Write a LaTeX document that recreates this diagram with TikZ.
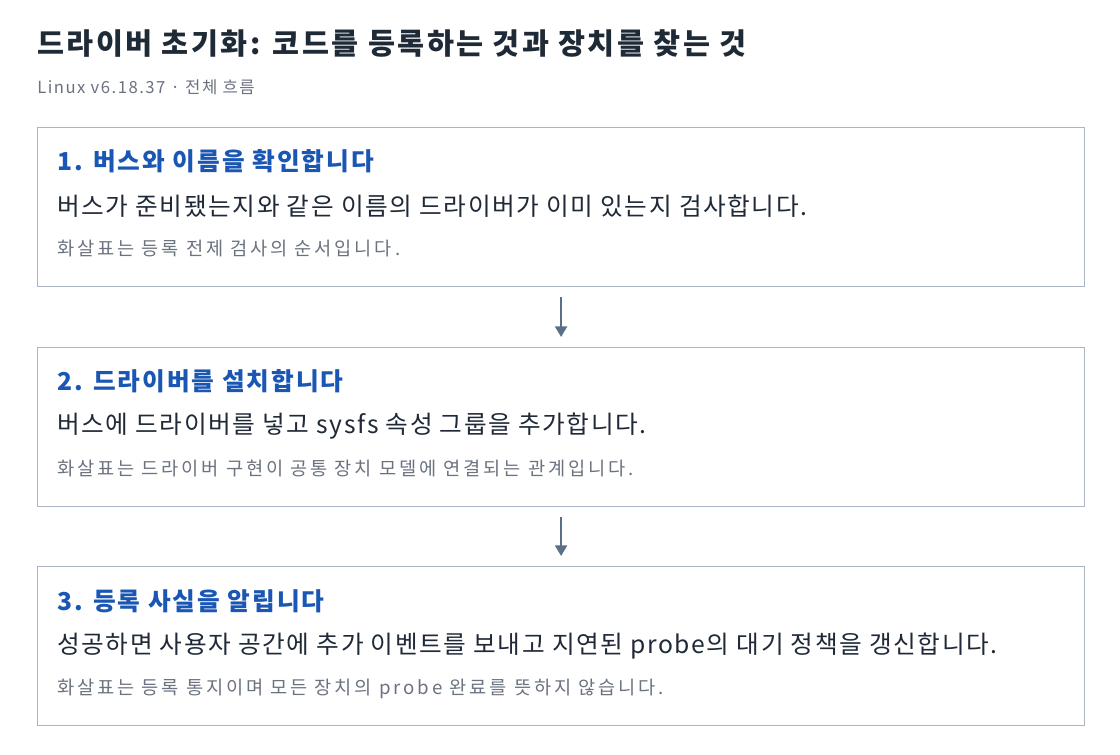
\documentclass[tikz,border=0pt]{standalone}
\usepackage{fontspec}
\setmainfont{Noto Sans CJK KR}
\usetikzlibrary{arrows.meta}
\definecolor{titlecol}{HTML}{1F2A37}
\definecolor{headcol}{HTML}{1A56B4}
\definecolor{bodycol}{HTML}{1F2937}
\definecolor{notecol}{HTML}{6B7280}
\definecolor{framecol}{HTML}{AAB4C3}
\definecolor{arrowcol}{HTML}{5B7088}
\tikzset{
  stepbox/.style={draw=framecol, line width=0.9pt, anchor=north west,
    minimum width=785.25pt, minimum height=119.25pt, inner sep=0pt},
  stephead/.style={anchor=west, inner sep=0pt, text=headcol,
    font=\bfseries\fontsize{18.5}{22}\selectfont\addfontfeature{LetterSpace=8}},
  stepbody/.style={anchor=west, inner sep=0pt, text=bodycol,
    font=\fontsize{18.5}{22}\selectfont\addfontfeature{LetterSpace=6.5}},
  stepnote/.style={anchor=west, inner sep=0pt, text=notecol,
    font=\fontsize{14}{17}\selectfont\addfontfeature{LetterSpace=15.5}},
  flow/.style={draw=arrowcol, line width=1.6pt, -{Triangle[width=9pt,length=8pt]}, shorten <=7.5pt, shorten >=7.5pt}
}
\begin{document}
\begin{tikzpicture}[x=0.75pt,y=-0.75pt]
\useasboundingbox [fill=white] (0,0) rectangle (1120,754);

\node [anchor=west, inner sep=0pt, text=titlecol, font=\bfseries\fontsize{22}{26}\selectfont\addfontfeature{LetterSpace=8.5}] (title) at (37,44) {드라이버 초기화: 코드를 등록하는 것과 장치를 찾는 것};
\node [anchor=west, inner sep=0pt, text=notecol, font=\fontsize{12.5}{15}\selectfont\addfontfeature{LetterSpace=9}] (subtitle) at (37,87) {Linux v6.18.37 · 전체 흐름};

% step 1
\node [stepbox] (box1) at (37,127) {};
\node [stephead] (head1) at (57,161) {1. 버스와 이름을 확인합니다};
\node [stepbody] (body1) at (57,206) {버스가 준비됐는지와 같은 이름의 드라이버가 이미 있는지 검사합니다.};
\node [stepnote] (note1) at (57,249) {화살표는 등록 전제 검사의 순서입니다.};

% step 2
\node [stepbox] (box2) at (37,347) {};
\node [stephead] (head2) at (57,381) {2. 드라이버를 설치합니다};
\node [stepbody] (body2) at (57,426) {버스에 드라이버를 넣고 sysfs 속성 그룹을 추가합니다.};
\node [stepnote] (note2) at (57,469) {화살표는 드라이버 구현이 공통 장치 모델에 연결되는 관계입니다.};

% step 3
\node [stepbox] (box3) at (37,566) {};
\node [stephead] (head3) at (57,601) {3. 등록 사실을 알립니다};
\node [stepbody] (body3) at (57,646) {성공하면 사용자 공간에 추가 이벤트를 보내고 지연된 probe의 대기 정책을 갱신합니다.};
\node [stepnote] (note3) at (57,689) {화살표는 등록 통지이며 모든 장치의 probe 완료를 뜻하지 않습니다.};

\draw [flow] (box1.south) -- (box2.north);
\draw [flow] (box2.south) -- (box3.north);
\end{tikzpicture}
\end{document}
